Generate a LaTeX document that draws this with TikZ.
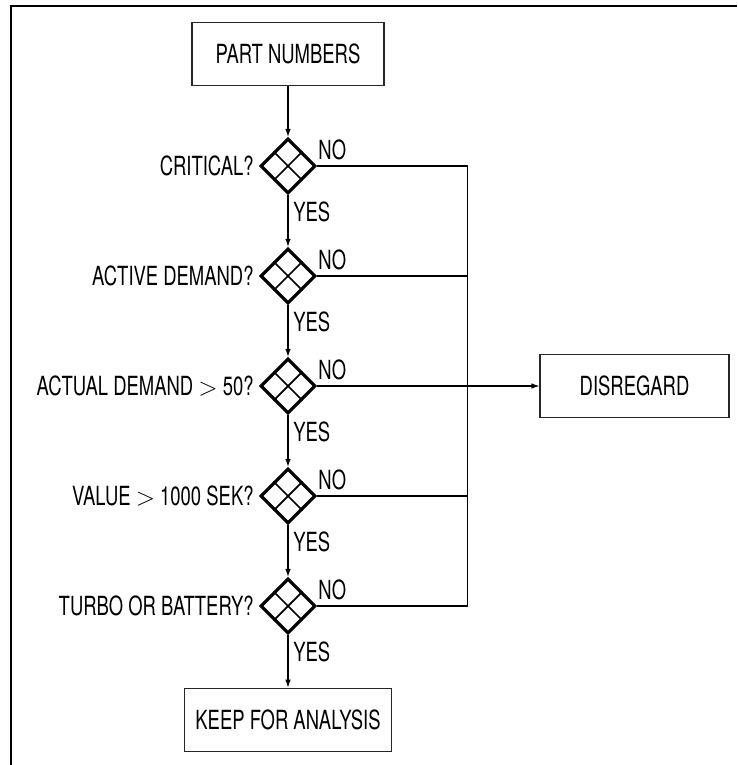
\documentclass[tikz,border=0pt]{standalone}
\usepackage{fontspec}
\setmainfont[FakeStretch=0.7]{TeX Gyre Heros}
\usetikzlibrary{shapes.geometric,arrows.meta,calc}

\begin{document}
\begin{tikzpicture}[font=\fontsize{15}{17}\selectfont,
  box/.style={draw=black!85, line width=0.6pt, minimum width=#1, minimum height=1.27cm, inner sep=0},
  decision/.style={diamond, draw, line width=1.8pt, minimum size=1.1cm, inner sep=0},
  flow/.style={line width=0.6pt},
  arr/.style={flow, -{Latex[length=1.6mm,width=1.1mm]}}]
\useasboundingbox (0,0) rectangle (14.74,-15.3);
\draw[line width=1.2pt] (0.22,-15.3) -- (0.22,-0.12) -- (14.74,-0.12);

\node[box=3.84cm] (parts) at (5.76,-1.08) {PART NUMBERS};
\node[box=3.78cm] (dis) at (12.69,-7.72) {DISREGARD};
\node[box=4.14cm] (keep) at (5.76,-14.4) {KEEP FOR ANALYSIS};

\foreach \n/\txt in {1/CRITICAL?, 2/ACTIVE DEMAND?, 3/ACTUAL DEMAND $>$ 50?, 4/VALUE $>$ 1000 SEK?, 5/TURBO OR BATTERY?}
{
\node[decision] (c\n) at (5.76,{-3.32-2.2*(\n-1)}) {};
\draw[line width=1pt] ($(c\n.north)!.5!(c\n.east)$) -- ($(c\n.south)!.5!(c\n.west)$);
\draw[line width=1pt] ($(c\n.north)!.5!(c\n.west)$) -- ($(c\n.south)!.5!(c\n.east)$);
\node[anchor=east, inner sep=0] (q\n) at ([xshift=-1mm]c\n.west) {\txt};
\node[anchor=south west, inner sep=0] (no\n) at ([shift={(0.02,0.12)}]c\n.east) {NO};
\node[anchor=north west, inner sep=0] (yes\n) at ([shift={(0.1,-0.12)}]c\n.south) {YES};
}

\draw[arr] (parts) -- (c1);
\foreach \a/\b in {1/2,2/3,3/4,4/5}
\draw[arr] (c\a) -- (c\b);
\draw[arr] (c5) -- (keep);

\coordinate (top) at (9.35,-3.32);
\coordinate (bot) at (9.35,-12.12);
\draw[flow] (c1.east) -- (top) -- (bot) -- (c5.east);
\draw[flow] (c2.east) -- (c2.east -| top);
\draw[flow] (c4.east) -- (c4.east -| top);
\draw[arr] (c3.east) -- (dis.west);
\end{tikzpicture}
\end{document}
